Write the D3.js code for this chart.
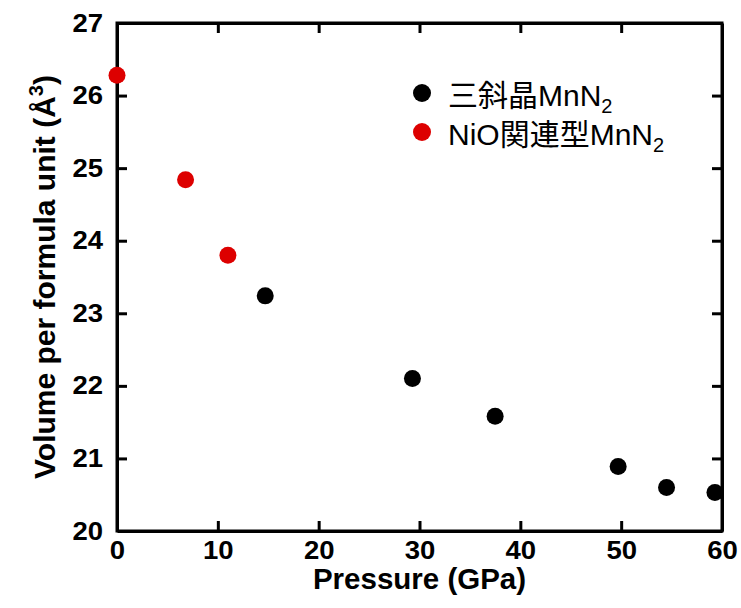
<!DOCTYPE html>
<html>
<head>
<meta charset="utf-8">
<script src="https://cdn.jsdelivr.net/npm/d3@7"></script>
<style>
  html, body { margin: 0; padding: 0; background: #fff; }
  svg { display: block; }
</style>
</head>
<body>
<svg id="chart" width="741" height="608"></svg>
<script>
// Pressure (GPa) and volume per formula unit (Å^3) for each MnN2 phase
const triclinicPressure = [14.7, 29.3, 37.5, 49.7, 54.5, 59.3];
const triclinicVolume   = [23.24, 22.10, 21.58, 20.89, 20.60, 20.53];
const nioPressure = [0.0, 6.8, 11.0];
const nioVolume   = [26.28, 24.84, 23.80];

const xTicks = [0, 10, 20, 30, 40, 50, 60];
const yTicks = [20, 21, 22, 23, 24, 25, 26, 27];

const seriesNames = ["三斜晶", "NiO関連型"];
const seriesColors = ["#000000", "#dd0000"];

const W = 741, H = 608;
const margin = { left: 117, right: 19, top: 23, bottom: 77 };
const plotW = W - margin.left - margin.right;
const plotH = H - margin.top - margin.bottom;

const svg = d3.select("#chart");
const g = svg.append("g").attr("transform", `translate(${margin.left},${margin.top})`);

const x = d3.scaleLinear().domain([0, 60]).range([0, plotW]);
const y = d3.scaleLinear().domain([20, 27]).range([plotH, 0]);

const tickFont = "'Liberation Sans', Arial, sans-serif";
const AXW = 3;
const fmt = d3.format("d");

function styleAxis(sel) {
  sel.select(".domain").attr("stroke", "#000").attr("stroke-width", AXW);
  sel.selectAll(".tick line").attr("stroke", "#000").attr("stroke-width", AXW);
}

// Bottom axis with inward ticks and bold labels
const bottomAxis = g.append("g").attr("transform", `translate(0,${plotH})`)
  .call(d3.axisBottom(x).tickValues(xTicks).tickFormat(fmt)
    .tickSizeInner(-10).tickSizeOuter(0).tickPadding(10));
styleAxis(bottomAxis);
bottomAxis.selectAll(".tick")
  .filter(d => d === 0 || d === 60).select("line").remove();
bottomAxis.selectAll(".tick text")
  .attr("font-family", tickFont).attr("font-weight", "bold")
  .attr("font-size", 25).attr("fill", "#000")
  .attr("transform", "scale(1.1,1)")
  .attr("x", 0);

// Left axis
const leftAxis = g.append("g")
  .call(d3.axisLeft(y).tickValues(yTicks).tickFormat(fmt)
    .tickSizeInner(-10).tickSizeOuter(0).tickPadding(14));
styleAxis(leftAxis);
leftAxis.selectAll(".tick")
  .filter(d => d === 20 || d === 27).select("line").remove();
leftAxis.selectAll(".tick text")
  .attr("font-family", tickFont).attr("font-weight", "bold")
  .attr("font-size", 25).attr("fill", "#000")
  .attr("transform", "scale(1.1,1)")
  .attr("x", -14 / 1.1);

// Top and right frame lines with inward ticks, no labels
const topAxis = g.append("g")
  .call(d3.axisTop(x).tickValues(xTicks.filter(v => v > 0 && v < 60))
    .tickSizeInner(-10).tickSizeOuter(0).tickFormat(""));
styleAxis(topAxis);

const rightAxis = g.append("g").attr("transform", `translate(${plotW},0)`)
  .call(d3.axisRight(y).tickValues(yTicks.filter(v => v > 20 && v < 27))
    .tickSizeInner(-10).tickSizeOuter(0).tickFormat(""));
styleAxis(rightAxis);

// Square the frame corners
g.append("rect")
  .attr("x", 0).attr("y", 0).attr("width", plotW).attr("height", plotH)
  .attr("fill", "none").attr("stroke", "#000").attr("stroke-width", AXW)
  .attr("stroke-linejoin", "miter");

// Data points
const triclinic = triclinicPressure.map((p, i) => ({ p, v: triclinicVolume[i] }));
const nio = nioPressure.map((p, i) => ({ p, v: nioVolume[i] }));

g.append("g").selectAll("circle").data(triclinic).join("circle")
  .attr("cx", d => x(d.p)).attr("cy", d => y(d.v)).attr("r", 8.5)
  .attr("fill", seriesColors[0]);

g.append("g").selectAll("circle").data(nio).join("circle")
  .attr("cx", d => x(d.p)).attr("cy", d => y(d.v)).attr("r", 8.5)
  .attr("fill", seriesColors[1]);

// Axis titles
svg.append("text")
  .attr("x", margin.left + plotW / 2).attr("y", 589)
  .attr("text-anchor", "middle")
  .attr("font-family", tickFont).attr("font-weight", "bold").attr("font-size", 29.5)
  .attr("fill", "#000")
  .text("Pressure (GPa)");

const yTitle = svg.append("text")
  .attr("transform", `translate(55,${margin.top + plotH / 2}) rotate(-90)`)
  .attr("text-anchor", "middle")
  .attr("font-family", tickFont).attr("font-weight", "bold").attr("font-size", 30)
  .attr("fill", "#000");
yTitle.append("tspan").text("Volume per formula unit (Å");
yTitle.append("tspan").attr("font-size", 20).attr("dy", -12).text("3");
yTitle.append("tspan").attr("dy", 12).text(")");

// Legend
const legendFont = "'Liberation Sans', Arial, 'Noto Sans CJK JP', sans-serif";
const legend = svg.append("g");
const legendRows = [{ y: 93, name: seriesNames[0], color: seriesColors[0] },
                    { y: 132, name: seriesNames[1], color: seriesColors[1] }];
legendRows.forEach(row => {
  legend.append("circle").attr("cx", 422).attr("cy", row.y).attr("r", 9).attr("fill", row.color);
  const t = legend.append("text")
    .attr("x", 448).attr("y", row.y + 13)
    .attr("font-family", legendFont).attr("font-size", 30).attr("fill", "#000");
  t.append("tspan").text(row.name + "MnN");
  t.append("tspan").attr("font-size", 20).attr("dy", 7).text("2");
});
</script>
</body>
</html>
